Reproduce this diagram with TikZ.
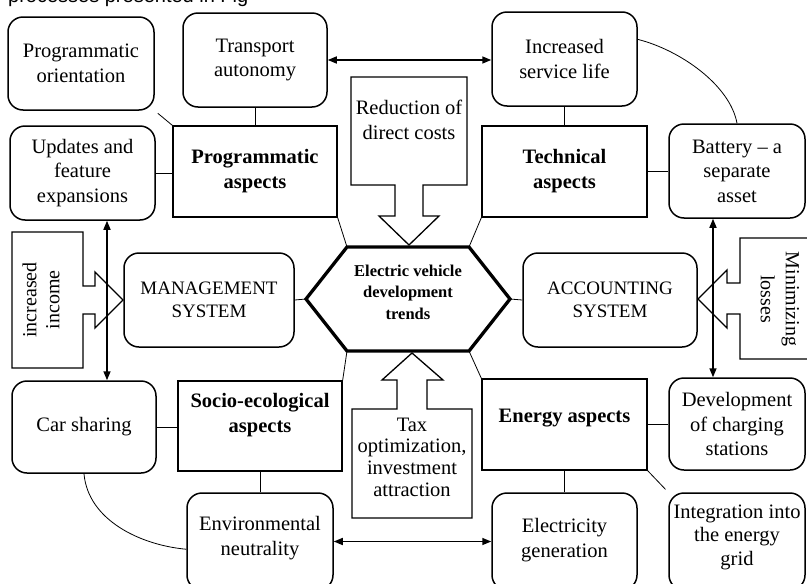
\documentclass[tikz,border=0pt]{standalone}
\usepackage{fontspec}
\setmainfont{Liberation Serif}
\newfontfamily\headfont{Liberation Sans}
\usetikzlibrary{arrows.meta}

\begin{document}
\begin{tikzpicture}[x=1pt, y=-1pt, >={Triangle[length=9pt, width=7pt]},
  every node/.style={font=\fontsize{20.5}{24.5}\selectfont, align=center, inner sep=0pt},
  rbox/.style={draw, line width=1.5pt, rounded corners=15pt},
  system/.style={rbox, font=\fontsize{19}{23}\selectfont},
  aspect/.style={draw, line width=1.3pt},
  bold/.style={font=\fontsize{20.5}{25}\selectfont\bfseries},
  link/.style={line width=0.8pt},
  twoway/.style={<->, line width=1.5pt},
  blockarrow/.style={draw, fill=white, line width=1.3pt, line join=miter}]

  \useasboundingbox (0,0) rectangle (807,584);

  % cut-off line of the page above
  \node[font=\headfont\fontsize{20}{22}\selectfont, anchor=base west] (pagetext) at (8,2) {processes presented in Fig};

  % Programmatic group
  \node[rbox, minimum width=146pt, minimum height=93pt] (orient) at (81,63.5) {Programmatic\\orientation};
  \node[rbox, minimum width=144pt, minimum height=94pt] (transp) at (255,60) {Transport\\autonomy};
  \node[rbox, minimum width=145pt, minimum height=94pt] (updates) at (82.5,173) {Updates and\\feature\\expansions};
  \node[aspect, bold, minimum width=164pt, minimum height=91pt] (progasp) at (255,171.5) {Programmatic\\aspects};

  % Technical group
  \node[rbox, minimum width=145pt, minimum height=94pt] (incr) at (564.5,59) {Increased\\service life};
  \node[aspect, bold, minimum width=165pt, minimum height=91pt] (techasp) at (564.5,171.5) {Technical\\aspects};
  \node[rbox, minimum width=136pt, minimum height=94pt] (battery) at (737,171) {Battery -- a\\separate\\asset};

  % Systems
  \node[system, minimum width=170pt, minimum height=94pt] (mgmt) at (209,300) {MANAGEMENT\\SYSTEM};
  \node[system, minimum width=174pt, minimum height=94pt] (acct) at (610,300) {ACCOUNTING\\SYSTEM};

  % Socio-ecological group
  \node[rbox, minimum width=144pt, minimum height=92pt] (carsh) at (84,427) {Car sharing};
  \node[aspect, minimum width=164pt, minimum height=90pt] (socio) at (260,426) {};
  \node[bold] (sociotext) at (260,415) {Socio-ecological\\aspects};
  \node[rbox, minimum width=146pt, minimum height=97pt] (env) at (260,541.5) {};
  \node (envtext) at (260,538) {Environmental\\neutrality};

  % Energy group
  \node[aspect, minimum width=165pt, minimum height=91pt] (energy) at (564.5,424.5) {};
  \node[bold] (energytext) at (564.5,418) {Energy aspects};
  \node[rbox, minimum width=136pt, minimum height=92pt] (devel) at (737,424) {Development\\of charging\\stations};
  \node[rbox, minimum width=145pt, minimum height=97pt] (elec) at (564.5,541.5) {};
  \node (electext) at (564.5,540) {Electricity\\generation};
  \node[rbox, minimum width=136pt, minimum height=97pt] (integ) at (737,541.5) {};
  \node[font=\fontsize{20.5}{23.5}\selectfont] (integtext) at (737,537) {Integration into\\the energy\\grid};

  % Central hexagon
  \coordinate (h1) at (306,299);
  \coordinate (h2) at (347,247);
  \coordinate (h3) at (469,247);
  \coordinate (h4) at (510,299);
  \coordinate (h5) at (469,351);
  \coordinate (h6) at (347,351);
  \draw[line width=3.3pt, line join=miter] (h1) -- (h2) -- (h3) -- (h4) -- (h5) -- (h6) -- cycle;
  \node[font=\fontsize{16.5}{21.5}\selectfont\bfseries] (trends) at (408,292) {Electric vehicle\\development\\trends};

  % Block arrows
  \draw[blockarrow] (351,77) -- (467,77) -- (467,185) -- (423,185) -- (423,216) -- (439,216) -- (409,245)
    -- (379,216) -- (395,216) -- (395,185) -- (351,185) -- cycle;
  \node (costs) at (409,120) {Reduction of\\direct costs};
  \draw[blockarrow] (352,518) -- (472,518) -- (472,409) -- (427,409) -- (427,380) -- (443,380) -- (412,353)
    -- (382,380) -- (397,380) -- (397,409) -- (352,409) -- cycle;
  \node[font=\fontsize{20.5}{21.7}\selectfont] (tax) at (412,457) {Tax\\optimization,\\investment\\attraction};
  \draw[blockarrow] (12,232) -- (83,232) -- (83,286) -- (95,286) -- (95,272) -- (123,300) -- (95,328)
    -- (95,314) -- (83,314) -- (83,368) -- (12,368) -- cycle;
  \node[rotate=90, font=\fontsize{20}{23}\selectfont] (income) at (41,300) {increased\\income};
  \draw[blockarrow] (822,238) -- (740,238) -- (740,283) -- (727,283) -- (727,270) -- (698,299) -- (727,328)
    -- (727,314) -- (740,314) -- (740,359) -- (822,359) -- cycle;
  \node[rotate=-90, font=\fontsize{20}{25}\selectfont] (losses) at (780,299) {Minimizing\\losses};

  % Thin links
  \draw[link, shorten <=4pt] (orient.south east) -- (progasp.north west);
  \draw[link] (transp.south) -- (progasp.north);
  \draw[link] (updates.east) -- (updates.east -| progasp.west);
  \draw[link] (progasp.south east) -- (h2);
  \draw[link] (incr.south) -- (techasp.north);
  \draw[link] (techasp.east) -- (techasp.east -| battery.west);
  \draw[link] (h3) -- (techasp.south west);
  \draw[link] (incr.15) .. controls (680,50) and (730,85) .. (battery.north);
  \draw[link] (mgmt.east) -- (h1);
  \draw[link] (h4) -- (acct.west);
  \draw[link] (h6) -- (socio.north east);
  \draw[link] (h5) -- (energy.north west);
  \draw[link] (carsh.east) -- (carsh.east -| socio.west);
  \draw[link] (socio.south) -- (env.north);
  \draw[link] (carsh.south) .. controls (88,520) and (140,545) .. (env.186);
  \draw[link] (energy.east) -- (energy.east -| devel.west);
  \draw[link] (energy.south) -- (elec.north);
  \draw[link, shorten >=4pt] (energy.south east) -- (integ.north west);

  % Two-way arrows
  \coordinate (uleft) at ([xshift=24.5pt]updates.south);
  \coordinate (uright) at ([xshift=-24pt]battery.south);
  \draw[twoway] (transp.east) -- (transp.east -| incr.west);
  \draw[twoway] (uleft) -- (uleft |- carsh.north);
  \draw[twoway] (uright) -- (uright |- devel.north);
  \draw[twoway] (env.east) -- (env.east -| elec.west);

\end{tikzpicture}
\end{document}
